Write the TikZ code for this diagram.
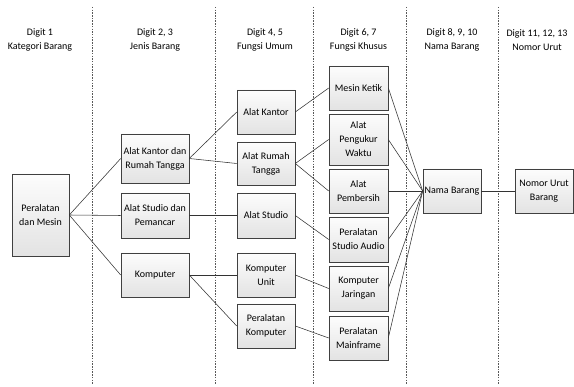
\documentclass[tikz,border=0pt]{standalone}
\usepackage{fontspec}
\setmainfont{Carlito}
\usetikzlibrary{shadows}
\begin{document}
\begin{tikzpicture}[x=1pt,y=-1pt,
  box/.style={draw=black!75, line width=0.6pt, top color=gray!2, bottom color=gray!22,
    drop shadow={shadow xshift=1.4pt, shadow yshift=-1.4pt, opacity=0.55, fill=gray!85},
    align=center, inner sep=0pt, minimum width=#1, font=\fontsize{10}{14}\selectfont, text=black},
  box/.default=58pt,
  hdr/.style={align=center, font=\fontsize{10}{14}\selectfont, text=black},
  sep/.style={draw=black!65, line width=0.5pt, dash pattern=on 1.5pt off 1.2pt},
  conn/.style={draw=black!80, line width=0.55pt}]
\useasboundingbox (0,0) rectangle (574,387);
% column separators
\foreach \x/\n in {92/a,215/b,313/c,406/d,498/e}{
  \coordinate (t\n) at (\x,7); \coordinate (u\n) at (\x,384);
  \draw[sep] (t\n) -- (u\n);}
% headers
\node[hdr] (h1) at (40,40) {Digit 1\\Kategori Barang};
\node[hdr] (h2) at (155,40) {Digit 2, 3\\Jenis Barang};
\node[hdr] (h3) at (265,40) {Digit 4, 5\\Fungsi Umum};
\node[hdr] (h4) at (358.5,40) {Digit 6, 7\\Fungsi Khusus};
\node[hdr] (h5) at (452,40) {Digit 8, 9, 10\\Nama Barang};
\node[hdr] (h6) at (537,40) {Digit 11, 12, 13\\Nomor Urut};
% boxes
\node[box=57pt, minimum height=82pt] (pm) at (40.5,215) {Peralatan\\dan Mesin};
\node[box=68pt, minimum height=49pt] (akrt) at (155,158.5) {Alat Kantor dan\\Rumah Tangga};
\node[box=68pt, minimum height=45pt] (asp) at (155,215.5) {Alat Studio dan\\Pemancar};
\node[box=68pt, minimum height=44pt] (komp) at (155,275) {Komputer};
\node[box, minimum height=44pt] (ak) at (266,112) {Alat Kantor};
\node[box, minimum height=43pt] (art) at (266,163.5) {Alat Rumah\\Tangga};
\node[box, minimum height=45pt] (as) at (266,215.5) {Alat Studio};
\node[box, minimum height=44pt] (ku) at (266,275) {Komputer\\Unit};
\node[box, minimum height=44pt] (pk) at (266,326) {Peralatan\\Komputer};
\node[box=59pt, minimum height=44pt] (mk) at (358.5,88) {Mesin Ketik};
\node[box=59pt, minimum height=51pt] (apw) at (358.5,139.5) {Alat\\Pengukur\\Waktu};
\node[box=59pt, minimum height=44pt] (ap) at (358.5,191) {Alat\\Pembersih};
\node[box=59pt, minimum height=45pt] (psa) at (358.5,239.5) {Peralatan\\Studio Audio};
\node[box=59pt, minimum height=45pt] (kj) at (358.5,288.5) {Komputer\\Jaringan};
\node[box=59pt, minimum height=44pt] (pmf) at (358.5,338) {Peralatan\\Mainframe};
\node[box, minimum height=44pt] (nb) at (452,191) {Nama Barang};
\node[box, minimum height=44pt] (nu) at (544,191) {Nomor Urut\\Barang};
% connectors
\foreach \a/\b in {pm/akrt,pm/asp,pm/komp,akrt/ak,akrt/art,asp/as,komp/ku,komp/pk,
  ak/mk,art/apw,art/ap,as/psa,ku/kj,pk/pmf,
  mk/nb,apw/nb,ap/nb,psa/nb,kj/nb,pmf/nb,nb/nu}
  \draw[conn] (\a.east) -- (\b.west);
\end{tikzpicture}
\end{document}
